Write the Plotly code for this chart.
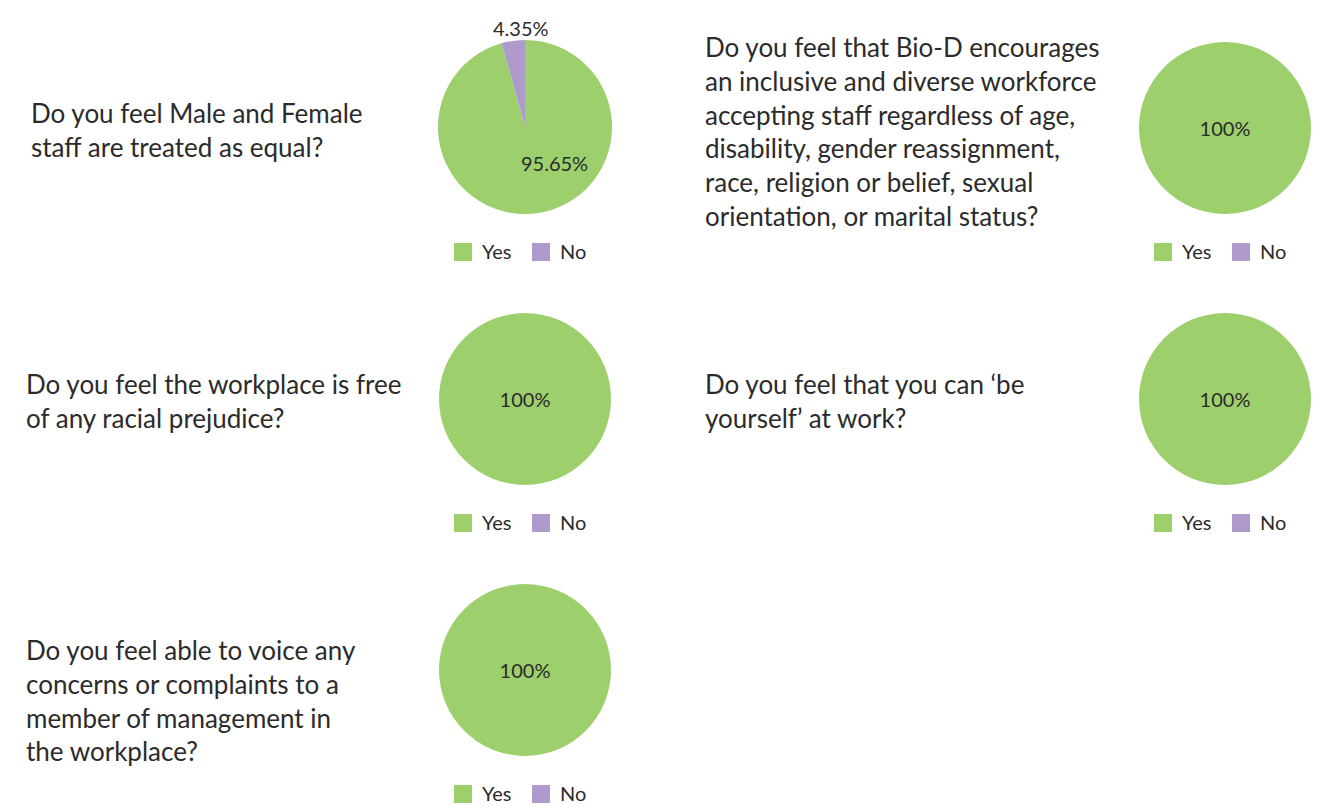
import plotly.graph_objects as go

labels = ["Yes", "No"]
questions = [
    "Do you feel Male and Female<br>staff are treated as equal?",
    "Do you feel that Bio-D encourages<br>an inclusive and diverse workforce<br>accepting staff regardless of age,<br>disability, gender reassignment,<br>race, religion or belief, sexual<br>orientation, or marital status?",
    "Do you feel the workplace is free<br>of any racial prejudice?",
    "Do you feel that you can ‘be<br>yourself’ at work?",
    "Do you feel able to voice any<br>concerns or complaints to a<br>member of management in<br>the workplace?",
]
yes_values = [95.65, 100, 100, 100, 100]
no_values = [4.35, 0, 0, 0, 0]

colors = ["#9dcf6d", "#ae9bcc"]
FONT = "Lato"
TXT = "#2b2b2b"
W, H = 1335, 810

# layout positions in pixels (centre x, centre y, radius)
pies = [(525, 127, 87), (1225, 128, 86), (525, 399, 86), (1225, 399, 86), (525, 670, 86)]
q_pos = [(29, 130), (703, 131), (24, 401), (703, 401), (24, 700)]
leg_pos = [(454, 252), (1154, 252), (454, 523), (1154, 523), (454, 794)]

fig = go.Figure()
for i, (cx, cy, r) in enumerate(pies):
    vals = [yes_values[i], no_values[i]]
    custom = i == 0
    fig.add_trace(go.Pie(
        labels=labels, values=vals, sort=False, direction="clockwise", rotation=0,
        marker=dict(colors=colors, line=dict(width=0)),
        texttemplate="%{value}%", textposition="none" if custom else "inside",
        textfont=dict(family=FONT, size=20, color=TXT),
        insidetextorientation="horizontal",
        domain=dict(x=[(cx - r) / W, (cx + r) / W], y=[1 - (cy + r) / H, 1 - (cy - r) / H]),
        showlegend=False, hoverinfo="label+percent",
    ))

# data labels of the first (split) pie
cx, cy, r = pies[0]
fig.add_annotation(x=(cx - 4) / W, y=1 - 28 / H, xref="paper", yref="paper",
                   text=f"{no_values[0]}%", showarrow=False, xanchor="center", yanchor="middle",
                   font=dict(family=FONT, size=20, color=TXT))
fig.add_annotation(x=(cx + 29) / W, y=1 - 163 / H, xref="paper", yref="paper",
                   text=f"{yes_values[0]}%", showarrow=False, xanchor="center", yanchor="middle",
                   font=dict(family=FONT, size=20, color=TXT))

# legends
for lx, ly in leg_pos:
    offs = [0, 78]
    for lab, col, o in zip(labels, colors, offs):
        x0 = lx + o
        fig.add_shape(type="rect", xref="paper", yref="paper",
                      x0=x0 / W, x1=(x0 + 18) / W, y0=1 - (ly + 9) / H, y1=1 - (ly - 9) / H,
                      fillcolor=col, line=dict(width=0))
        fig.add_annotation(x=(x0 + 26) / W, y=1 - (ly - 1) / H, xref="paper", yref="paper",
                           text=lab, showarrow=False, xanchor="left", yanchor="middle",
                           font=dict(family=FONT, size=20, color=TXT))

for (qx, qy), q in zip(q_pos, questions):
    fig.add_annotation(
        x=qx / W, y=1 - qy / H, xref="paper", yref="paper", xanchor="left", yanchor="middle",
        text=q, showarrow=False, align="left",
        font=dict(family=FONT, size=26, color=TXT),
    )

fig.update_layout(
    width=W, height=H, margin=dict(l=0, r=0, t=0, b=0),
    paper_bgcolor="white", plot_bgcolor="white",
)
fig.write_html("out.html")
